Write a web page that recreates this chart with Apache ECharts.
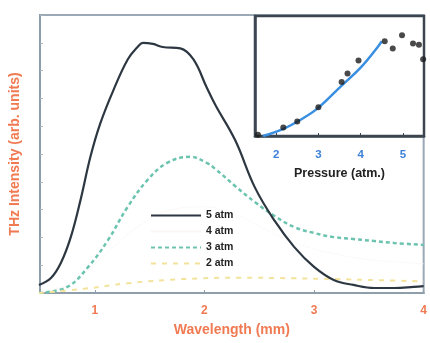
<!DOCTYPE html>
<html><head><meta charset="utf-8">
<script src="https://cdn.jsdelivr.net/npm/echarts@6/dist/echarts.min.js"></script>
<style>html,body{margin:0;padding:0;background:#fff}#c{width:430px;height:343px}</style>
</head><body><div id="c"></div>
<script>
// Main chart: wavelength (mm) vs THz intensity (arb. units)
const wl5 = [0.49,0.6,0.69,0.78,0.87,0.96,1.05,1.17,1.30,1.39,1.44,1.53,1.62,1.78,1.90,2.02,2.10,2.28,2.46,2.64,2.82,3.0,3.18,3.36,3.55,3.73,3.91,4.0];
const int5 = [2.9,5.4,10.8,20,33.5,49,61,73,84,88.5,90,89.6,88.5,88,84,74,67.6,55,38,26,16.5,9.4,4.7,2.9,1.8,1.8,2.2,2.5];
const wl3 = [0.49,0.75,0.94,1.12,1.30,1.48,1.66,1.87,2.02,2.10,2.28,2.46,2.64,2.82,3.0,3.18,3.36,3.55,3.73,4.0];
const int3 = [0,2.2,9.4,19,31,40.6,46.8,49,46.8,44.6,38.5,32.7,27.7,23.7,21.6,20.1,19.4,18.7,18,17.3];
const wl4 = [0.49,0.8,1.1,1.4,1.7,2.0,2.3,2.6,2.9,3.2,3.5,3.8,4.0];
const int4 = [0,4,14,24,30,31,28,22,17,14,12,11,10.5];
const wl2 = [0.49,0.9,1.3,1.8,2.3,2.8,3.2,3.6,4.0];
const int2 = [0,1.5,3.5,5,5.5,5.3,5,4.6,4.2];
const xTicks = [1,2,3,4];
// Inset: pressure (atm.) vs peak intensity
const pPress = [1.57,2.17,2.5,3.0,3.55,3.69,3.95,4.57,4.76,4.98,5.24,5.38,5.48];
const pVal = [0.01,0.07,0.12,0.24,0.45,0.52,0.63,0.79,0.73,0.84,0.77,0.76,0.64];
const fitPress = [1.69,2.17,2.6,2.98,3.52,4.0,4.4,4.5];
const fitVal = [0,0.06,0.14,0.23,0.41,0.57,0.74,0.79];
const insetTicks = [2,3,4,5];
const legendNames = ['5 atm','4 atm','3 atm','2 atm'];

const zip = (a,b)=>a.map((v,i)=>[v,b[i]]);
const orange = '#f07a52';
const ff = 'Liberation Sans, Arial';
const chart = echarts.init(document.getElementById('c'), null, {renderer:'canvas'});
chart.setOption({
  animation:false,
  backgroundColor:'#ffffff',
  grid:[
    {left:39,right:5,top:15,bottom:50,show:true,borderColor:'#9aa9b5',borderWidth:2,backgroundColor:'transparent'},
    {left:255,right:6,top:16,bottom:207,show:true,borderColor:'#3c4650',borderWidth:2.5,backgroundColor:'#ffffff',z:5}
  ],
  legend:{
    data:legendNames, orient:'vertical', left:145, top:205, itemWidth:50, itemHeight:10, itemGap:5,
    itemStyle:{opacity:0},
    textStyle:{fontFamily:ff,fontWeight:'bold',fontSize:10.5,color:'#222'}
  },
  xAxis:[
    {gridIndex:0,type:'value',min:0.5,max:4,
     name:'Wavelength (mm)',nameLocation:'middle',nameGap:30,
     nameTextStyle:{color:orange,fontWeight:'bold',fontSize:14,fontFamily:ff},
     axisLine:{lineStyle:{color:'#8e9eab',width:2}},
     axisTick:{customValues:xTicks,inside:true,length:3,lineStyle:{color:'#8e9eab'}},
     axisLabel:{customValues:xTicks,color:orange,fontWeight:'bold',fontSize:12,margin:12,fontFamily:ff},
     splitLine:{show:false}},
    {gridIndex:1,type:'value',min:1.5,max:5.5,
     name:'Pressure (atm.)',nameLocation:'middle',nameGap:31,
     nameTextStyle:{color:'#222',fontWeight:'bold',fontSize:12.5,fontFamily:ff},
     axisLine:{lineStyle:{color:'#3c4650',width:2.5}},
     axisTick:{customValues:insetTicks,inside:true,length:3,lineStyle:{color:'#3c4650'}},
     axisLabel:{customValues:insetTicks,color:'#3d82d8',fontWeight:'bold',fontSize:11.5,margin:13,fontFamily:ff},
     splitLine:{show:false},z:6}
  ],
  yAxis:[
    {gridIndex:0,type:'value',min:0,max:100,interval:10,
     name:'THz Intensity (arb. units)',nameLocation:'middle',nameGap:18,
     nameTextStyle:{color:orange,fontWeight:'bold',fontSize:14,fontFamily:ff},
     axisLine:{show:true,lineStyle:{color:'#8e9eab',width:2}},
     axisTick:{inside:true,length:3,lineStyle:{color:'#a8b4be'}},
     axisLabel:{show:false},splitLine:{show:false}},
    {gridIndex:1,type:'value',min:0,max:1,
     axisLine:{show:true,lineStyle:{color:'#3c4650',width:2.5}},
     axisTick:{show:false},axisLabel:{show:false},splitLine:{show:false},z:6}
  ],
  series:[
    {name:'5 atm',type:'line',xAxisIndex:0,yAxisIndex:0,data:zip(wl5,int5),smooth:0.4,symbol:'none',
     lineStyle:{color:'#2c3742',width:2.2},itemStyle:{color:'#2c3742'},z:3},
    {name:'4 atm',type:'line',xAxisIndex:0,yAxisIndex:0,data:zip(wl4,int4),smooth:0.4,symbol:'none',
     lineStyle:{color:'#fbf6f6',width:0.8},itemStyle:{color:'#fbf6f6'},z:1},
    {name:'3 atm',type:'line',xAxisIndex:0,yAxisIndex:0,data:zip(wl3,int3),smooth:0.4,symbol:'none',
     lineStyle:{color:'#6cc4b0',width:2.5,type:[4,3]},itemStyle:{color:'#6cc4b0'},z:2},
    {name:'2 atm',type:'line',xAxisIndex:0,yAxisIndex:0,data:zip(wl2,int2),smooth:0.4,symbol:'none',
     lineStyle:{color:'#f3e39a',width:2,type:[5,6]},itemStyle:{color:'#f3e39a'},z:2},
    {name:'fit',type:'line',xAxisIndex:1,yAxisIndex:1,data:zip(fitPress,fitVal),smooth:0.4,symbol:'none',
     lineStyle:{color:'#3a8fe0',width:2.5},z:7},
    {name:'data',type:'scatter',xAxisIndex:1,yAxisIndex:1,data:zip(pPress,pVal),symbolSize:6,
     itemStyle:{color:'#1c1c1c'},z:8}
  ]
});
</script></body></html>
